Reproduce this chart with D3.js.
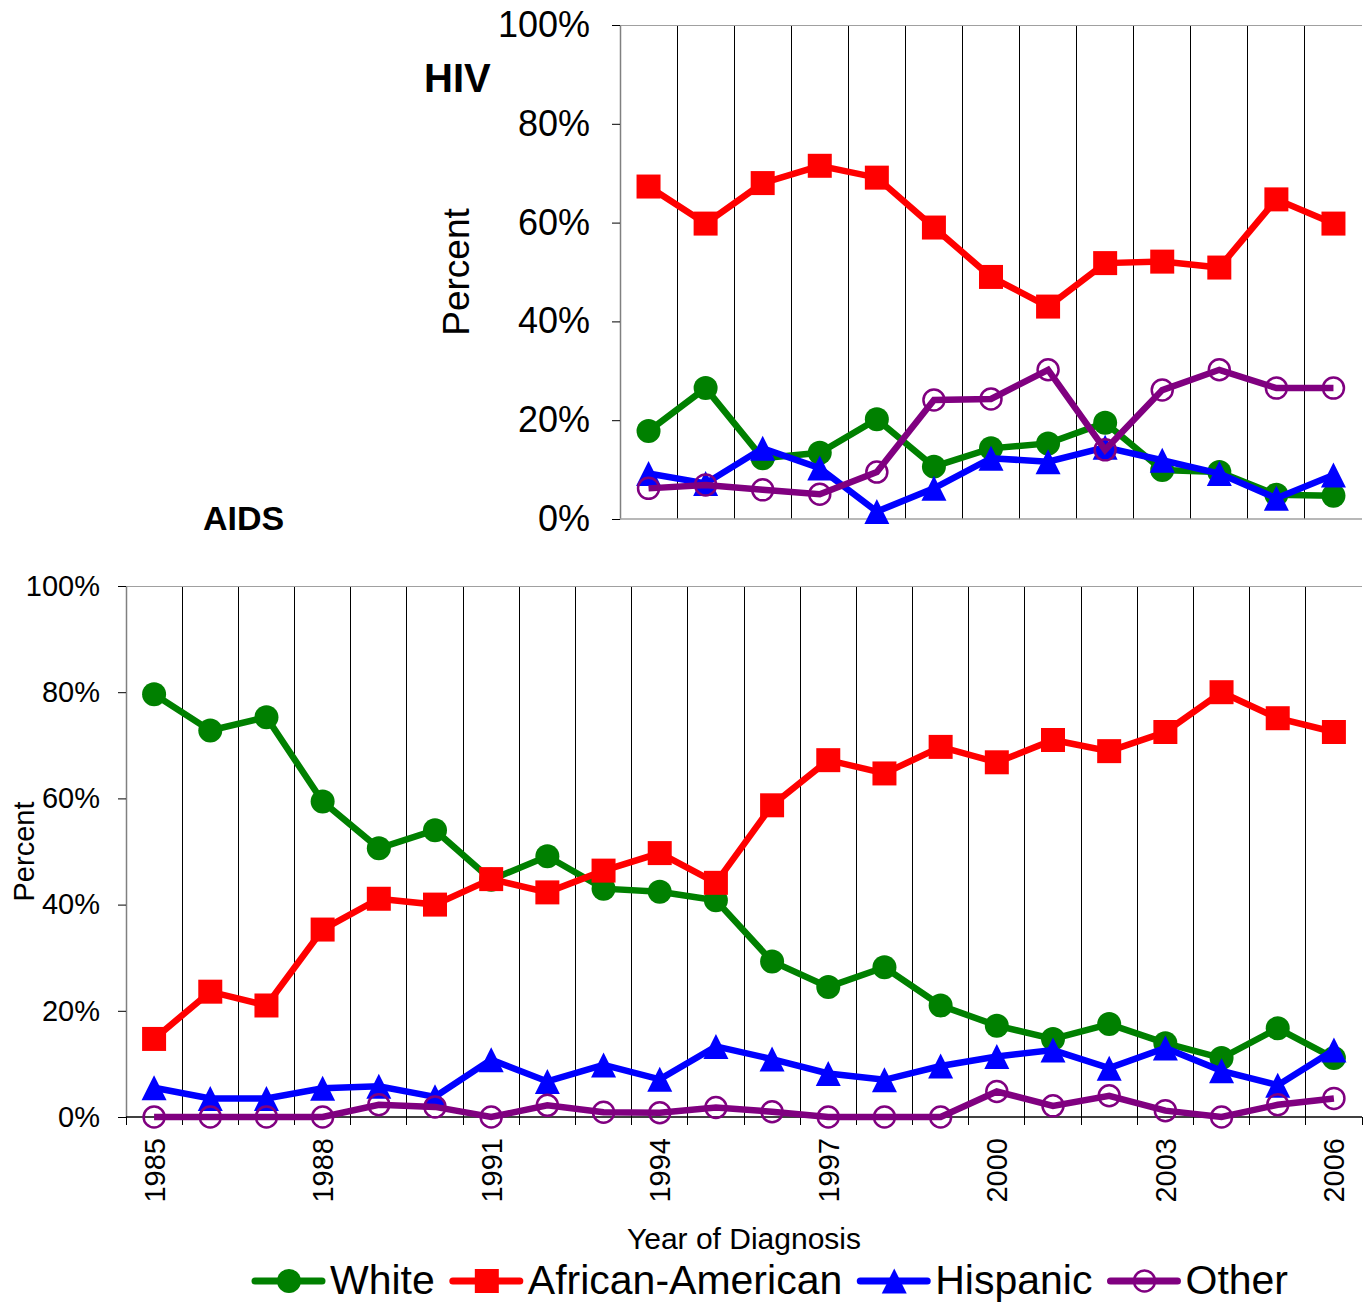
<!DOCTYPE html>
<html>
<head>
<meta charset="utf-8">
<script src="https://cdn.jsdelivr.net/npm/d3@7/dist/d3.min.js"></script>
<style>
  body { margin: 0; background: #fff; }
  svg { font-family: "Liberation Sans", Arial, sans-serif; }
</style>
</head>
<body>
<svg id="chart" width="1364" height="1304"></svg>
<script>
// ---- data (percent of diagnoses) ----
const seriesNames = ['White', 'African-American', 'Hispanic', 'Other'];

const hivYears = [1994, 1995, 1996, 1997, 1998, 1999, 2000, 2001, 2002, 2003, 2004, 2005, 2006];
const hivWhite = [17.8, 26.5, 12.3, 13.4, 20.2, 10.6, 14.3, 15.3, 19.5, 9.9, 9.5, 4.9, 4.7];
const hivAfricanAmerican = [67.3, 59.8, 68.0, 71.5, 69.1, 59.0, 49.0, 43.0, 51.8, 52.1, 50.9, 64.7, 59.8];
const hivHispanic = [9.2, 7.2, 14.3, 10.3, 1.5, 6.2, 12.3, 11.6, 14.5, 11.9, 9.2, 4.2, 8.9];
const hivOther = [6.2, 6.9, 5.9, 5.0, 9.5, 24.1, 24.3, 30.2, 14.0, 26.1, 30.2, 26.5, 26.5];

const aidsYears = [1985, 1986, 1987, 1988, 1989, 1990, 1991, 1992, 1993, 1994, 1995,
                   1996, 1997, 1998, 1999, 2000, 2001, 2002, 2003, 2004, 2005, 2006];
const aidsWhite = [79.6, 72.8, 75.3, 59.4, 50.6, 54.0, 44.7, 49.1, 43.0, 42.4, 40.8,
                   29.3, 24.5, 28.2, 21.0, 17.2, 14.7, 17.5, 13.9, 11.1, 16.7, 11.1];
const aidsAfricanAmerican = [14.7, 23.6, 21.0, 35.3, 41.1, 40.0, 44.8, 42.3, 46.4, 49.7, 44.1,
                             58.7, 67.2, 64.7, 69.7, 66.8, 71.0, 68.9, 72.5, 80.0, 75.1, 72.5];
const aidsHispanic = [5.5, 3.5, 3.5, 5.4, 5.8, 3.8, 10.8, 6.7, 9.8, 7.1, 13.3,
                      10.9, 8.2, 7.0, 9.6, 11.4, 12.6, 9.2, 13.0, 8.7, 6.0, 12.6];
const aidsOther = [0, 0, 0, 0, 2.3, 1.9, 0, 2.2, 0.9, 0.8, 1.8,
                   1.0, 0, 0, 0, 4.8, 2.1, 4.0, 1.2, 0, 2.3, 3.5];

const yTicks = [0, 20, 40, 60, 80, 100];
const aidsYearLabels = [1985, 1988, 1991, 1994, 1997, 2000, 2003, 2006];

// series look (Excel-like)
const seriesStyle = {
  'White':            {color: '#008000', marker: 'circle'},
  'African-American': {color: '#ff0000', marker: 'square'},
  'Hispanic':         {color: '#0000ff', marker: 'triangle'},
  'Other':            {color: '#800080', marker: 'ring'}
};

function markerPath(type) {
  if (type === 'circle') return d3.symbol(d3.symbolCircle, Math.PI * 12 * 12)();
  if (type === 'square') return d3.symbol(d3.symbolSquare, 24 * 24)();
  if (type === 'triangle') return 'M0,-12.5L12.5,12.5L-12.5,12.5Z';
  return d3.symbol(d3.symbolCircle, Math.PI * 10.5 * 10.5)();
}

function drawMarker(sel, type, color) {
  sel.append('path')
    .attr('d', markerPath(type))
    .attr('fill', type === 'ring' ? 'none' : color)
    .attr('stroke', type === 'ring' ? color : 'none')
    .attr('stroke-width', 2.5);
}

const svg = d3.select('#chart');

class TrendPanel {
  constructor(_config, _series) {
    this.config = _config;
    this.series = _series;
    this.initVis();
  }

  initVis() {
    let vis = this;
    const c = vis.config;
    vis.g = svg.append('g');

    vis.xScale = d3.scaleBand()
      .domain(c.years)
      .range([c.left, c.right])
      .padding(0);

    vis.yScale = d3.scaleLinear()
      .domain([0, 100])
      .range([c.bottom, c.top]);

    const step = vis.xScale.step();
    const bounds = d3.range(c.years.length + 1).map(i => c.left + i * step);

    // vertical gridlines between categories
    vis.g.selectAll('.grid')
      .data(bounds.slice(1, -1))
      .enter().append('line')
      .attr('x1', d => d).attr('x2', d => d)
      .attr('y1', c.top).attr('y2', c.bottom)
      .attr('stroke', '#000')
      .attr('stroke-width', 1)
      .attr('shape-rendering', 'crispEdges');

    // top border
    vis.g.append('line')
      .attr('x1', c.left).attr('x2', c.right)
      .attr('y1', c.top).attr('y2', c.top)
      .attr('stroke', '#a0a0a0')
      .attr('shape-rendering', 'crispEdges');

    // y axis
    const yAxis = vis.g.append('g')
      .attr('transform', `translate(${c.left},0)`)
      .call(d3.axisLeft(vis.yScale)
        .tickValues(yTicks)
        .tickFormat(d => d + '%')
        .tickSize(8)
        .tickPadding(c.tickPad)
        .tickSizeOuter(0));
    yAxis.select('.domain').attr('stroke', '#808080').attr('stroke-width', 1.5);
    yAxis.selectAll('.tick line').attr('stroke', '#000');
    yAxis.selectAll('text')
      .attr('fill', '#000')
      .style('font-size', c.tickFont + 'px')
      .style('font-family', '"Liberation Sans", Arial, sans-serif');

    // x axis line + boundary ticks
    vis.g.append('line')
      .attr('x1', c.left).attr('x2', c.right)
      .attr('y1', c.bottom).attr('y2', c.bottom)
      .attr('stroke', c.xAxisColor)
      .attr('stroke-width', 1.5);

    if (c.xLabels) {
      vis.g.selectAll('.xtick')
        .data(bounds)
        .enter().append('line')
        .attr('x1', d => d).attr('x2', d => d)
        .attr('y1', c.bottom).attr('y2', c.bottom + 8)
        .attr('stroke', '#000')
        .attr('shape-rendering', 'crispEdges');

      const xAxis = vis.g.append('g')
        .attr('transform', `translate(0,${c.bottom})`)
        .call(d3.axisBottom(vis.xScale)
          .tickValues(c.xLabels)
          .tickSize(0)
          .tickSizeOuter(0));
      xAxis.select('.domain').remove();
      xAxis.selectAll('text')
        .attr('fill', '#000')
        .attr('transform', 'rotate(-90)')
        .attr('text-anchor', 'end')
        .attr('x', -21)
        .attr('y', 0)
        .attr('dy', '0.36em')
        .style('font-size', c.tickFont + 'px')
        .style('font-family', '"Liberation Sans", Arial, sans-serif');

      vis.g.append('text')
        .attr('x', (c.left + c.right) / 2 - 0)
        .attr('y', c.xTitleY)
        .attr('text-anchor', 'middle')
        .style('font-size', '30px')
        .text('Year of Diagnosis');
    }

    // y title
    vis.g.append('text')
      .attr('transform', `translate(${c.yTitleX},${(c.top + c.bottom) / 2}) rotate(-90)`)
      .attr('text-anchor', 'middle')
      .style('font-size', c.yTitleFont + 'px')
      .text('Percent');

    // panel title
    vis.g.append('text')
      .attr('x', c.titleX)
      .attr('y', c.titleY)
      .style('font-size', c.titleFont + 'px')
      .style('font-weight', 'bold')
      .text(c.title);

    vis.updateVis();
  }

  updateVis() {
    let vis = this;
    const c = vis.config;
    const line = d3.line()
      .x((d, i) => vis.xScale(c.years[i]) + vis.xScale.bandwidth() / 2)
      .y(d => vis.yScale(d));

    seriesNames.forEach(name => {
      const st = seriesStyle[name];
      const values = vis.series[name];
      const sg = vis.g.append('g');
      sg.append('path')
        .datum(values)
        .attr('d', line)
        .attr('fill', 'none')
        .attr('stroke', st.color)
        .attr('stroke-width', 6.5)
        .attr('stroke-linejoin', 'miter');
      sg.selectAll('.pt')
        .data(values)
        .enter().append('g')
        .attr('transform', (d, i) =>
          `translate(${vis.xScale(c.years[i]) + vis.xScale.bandwidth() / 2},${vis.yScale(d)})`)
        .each(function() { drawMarker(d3.select(this), st.marker, st.color); });
    });
  }
}

new TrendPanel({
  title: 'HIV', titleX: 424, titleY: 92, titleFont: 40,
  years: hivYears,
  left: 620, right: 1362, top: 25, bottom: 519,
  tickFont: 36, tickPad: 22,
  yTitleX: 469, yTitleFont: 37,
  xAxisColor: '#a0a0a0',
  xLabels: null
}, {
  'White': hivWhite,
  'African-American': hivAfricanAmerican,
  'Hispanic': hivHispanic,
  'Other': hivOther
});

new TrendPanel({
  title: 'AIDS', titleX: 203, titleY: 530, titleFont: 34,
  years: aidsYears,
  left: 126, right: 1362, top: 586, bottom: 1117,
  tickFont: 29, tickPad: 18,
  yTitleX: 34, yTitleFont: 29,
  xAxisColor: '#000',
  xLabels: aidsYearLabels,
  xTitleY: 1249
}, {
  'White': aidsWhite,
  'African-American': aidsAfricanAmerican,
  'Hispanic': aidsHispanic,
  'Other': aidsOther
});

// legend
const legend = svg.append('g').attr('transform', 'translate(255,1281)');
let lx = 0;
seriesNames.forEach(name => {
  const st = seriesStyle[name];
  const item = legend.append('g').attr('transform', `translate(${lx},0)`);
  item.append('line')
    .attr('x1', 0).attr('x2', 67)
    .attr('y1', 0).attr('y2', 0)
    .attr('stroke', st.color)
    .attr('stroke-width', 7)
    .attr('stroke-linecap', 'round');
  drawMarker(item.append('g').attr('transform', 'translate(34,0)'), st.marker, st.color);
  const t = item.append('text')
    .attr('x', 75)
    .attr('y', 13)
    .style('font-size', '41px')
    .text(name);
  lx += 75 + t.node().getComputedTextLength() + 18;
});
</script>
</body>
</html>
